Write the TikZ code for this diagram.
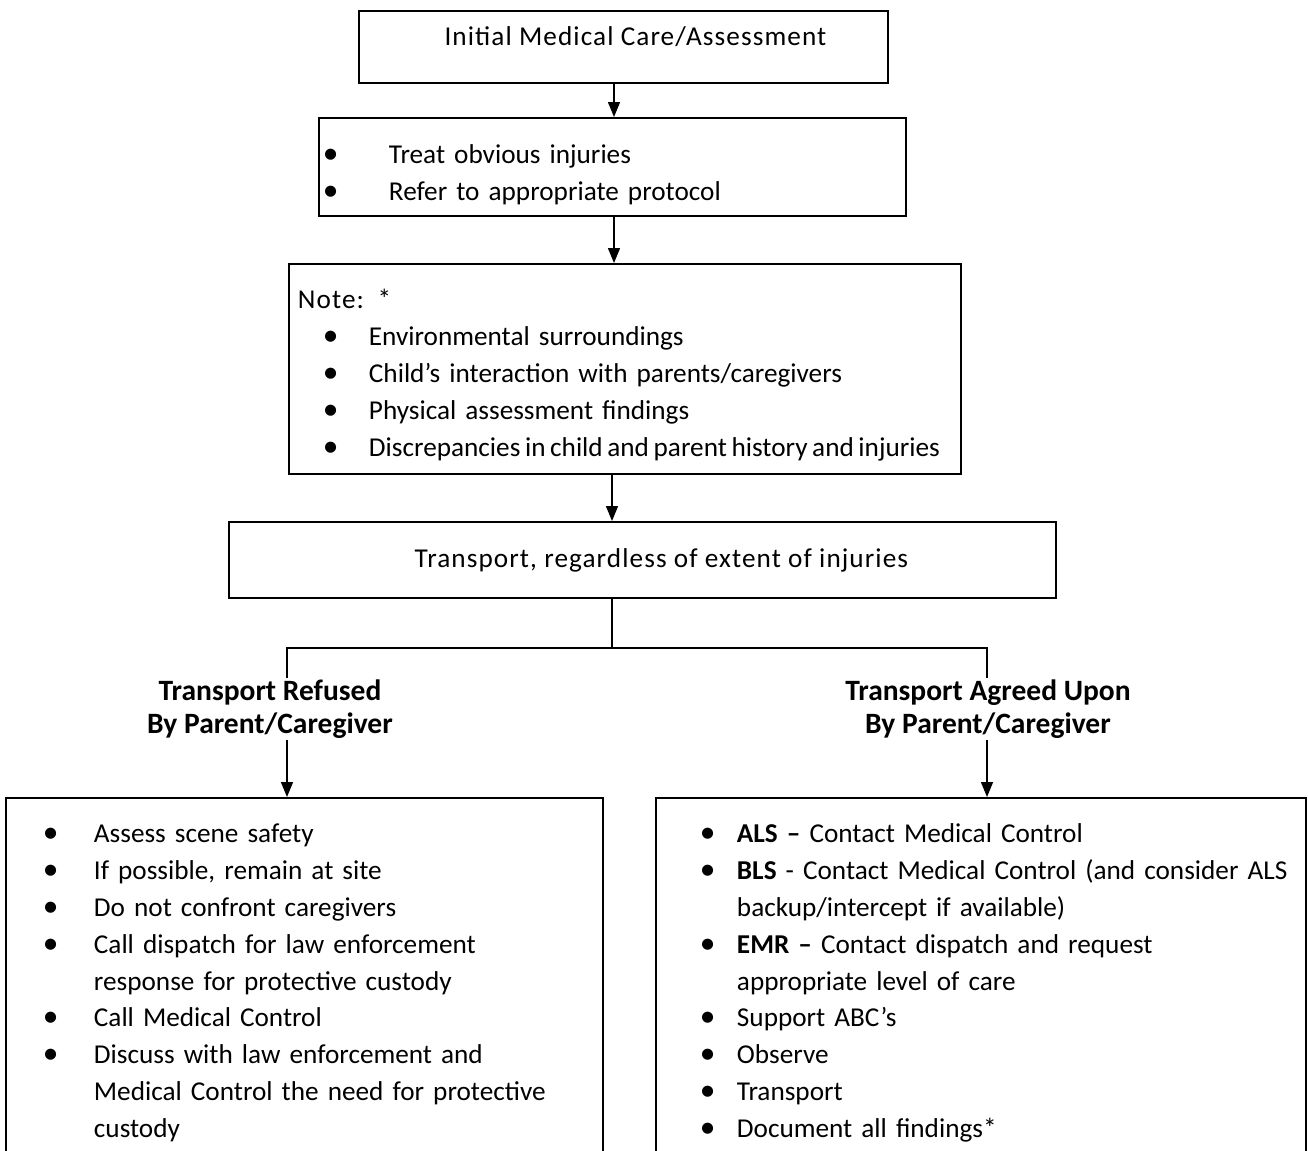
\documentclass[tikz,border=0pt]{standalone}
\usepackage{fontspec}
\setmainfont{Carlito}[WordSpace=0.75, BoldFeatures={WordSpace=1}]
\newfontfamily\widefont{Carlito}[LetterSpace=4]
\usetikzlibrary{positioning,arrows.meta}
\newcommand{\itm}[2]{\mbox{\makebox[#1][l]{\scalebox{1.15}{\textbullet}}#2}}
\newcommand{\cont}[2]{\mbox{\hspace*{#1}#2}}

\begin{document}
\begin{tikzpicture}[
    x=0.02cm, y=-0.02cm,
    every node/.style={font=\fontsize{15.5}{21}\selectfont},
    box/.style={
        draw,
        line width=1.1pt,
        anchor=north west,
        inner sep=0pt
    },
    listbox/.style={
        box,
        align=left
    },
    branch/.style={
        align=center,
        inner sep=1pt,
        font=\fontsize{16.8}{18.8}\selectfont\bfseries
    },
    arrow/.style={-{Triangle[length=3mm,width=2.4mm]}, line width=0.8pt},
    link/.style={line width=0.8pt}
]
\useasboundingbox (0,0) rectangle (1308,1150);

\node[box, minimum width=10.58cm, minimum height=1.44cm, text depth=0.45cm] (initial) at (358,10) {\widefont\hspace*{0.48cm}Initial Medical Care/Assessment};
\node[listbox, minimum width=11.74cm, minimum height=1.96cm, inner xsep=0.08cm, text width=11.58cm] (treat) at (318,117)
    {\rule{0pt}{20pt}\itm{1.32cm}{Treat obvious injuries}\\
     \itm{1.32cm}{Refer to appropriate protocol}};
\node[listbox, minimum width=13.44cm, minimum height=4.2cm, inner xsep=0.18cm, text width=13.08cm] (note) at (288,263)
    {\rule{0pt}{18pt}{\widefont Note: *}\\
     \hspace*{0.5cm}\itm{0.92cm}{Environmental surroundings}\\
     \hspace*{0.5cm}\itm{0.92cm}{Child’s interaction with parents/caregivers}\\
     \hspace*{0.5cm}\itm{0.92cm}{Physical assessment findings}\\
     \hspace*{0.5cm}\itm{0.92cm}{\spaceskip=0.17em\relax Discrepancies in child and parent history and injuries}};
\node[box, minimum width=16.54cm, minimum height=1.52cm] (transport) at (228,521) {\widefont\hspace*{0.76cm}Transport, regardless of extent of injuries};

\node[branch] (refused) at (270,709) {Transport Refused\\By Parent/Caregiver};
\node[branch] (agreed) at (988,709) {Transport Agreed Upon\\By Parent/Caregiver};

\node[listbox, minimum width=11.94cm, minimum height=7.4cm, inner xsep=0.74cm, text width=10.46cm] (refusebox) at (5,797)
    {\itm{1.02cm}{Assess scene safety}\\
     \itm{1.02cm}{If possible, remain at site}\\
     \itm{1.02cm}{Do not confront caregivers}\\
     \itm{1.02cm}{Call dispatch for law enforcement}\\
     \cont{1.02cm}{response for protective custody}\\
     \itm{1.02cm}{Call Medical Control}\\
     \itm{1.02cm}{Discuss with law enforcement and}\\
     \cont{1.02cm}{Medical Control the need for protective}\\
     \cont{1.02cm}{custody}};
\node[listbox, minimum width=13cm, minimum height=7.4cm, inner xsep=0.88cm, text width=11.24cm] (agreebox) at (655,797)
    {\itm{0.74cm}{\textbf{ALS --} Contact Medical Control}\\
     \itm{0.74cm}{\textbf{BLS} - Contact Medical Control (and consider ALS}\\
     \cont{0.74cm}{backup/intercept if available)}\\
     \itm{0.74cm}{\textbf{EMR --} Contact dispatch and request}\\
     \cont{0.74cm}{appropriate level of care}\\
     \itm{0.74cm}{Support ABC’s}\\
     \itm{0.74cm}{Observe}\\
     \itm{0.74cm}{Transport}\\
     \itm{0.74cm}{Document all findings*}};

\coordinate (spine) at (614,0);
\coordinate (fork) at (612,648);
\coordinate (forkL) at (287,648);
\coordinate (forkR) at (987,648);

\draw[arrow] (initial.south -| spine) -- (treat.north -| spine);
\draw[arrow] (treat.south -| spine) -- (note.north -| spine);
\draw[arrow] (note.south -| fork) -- (transport.north -| fork);
\draw[link] (transport.south -| fork) -- (fork);
\draw[link] (forkL |- refused.north) -- (forkL) -- (forkR) -- (forkR |- agreed.north);
\draw[arrow] (forkL |- refused.south) -- (forkL |- refusebox.north);
\draw[arrow] (forkR |- agreed.south) -- (forkR |- agreebox.north);

\end{tikzpicture}
\end{document}
